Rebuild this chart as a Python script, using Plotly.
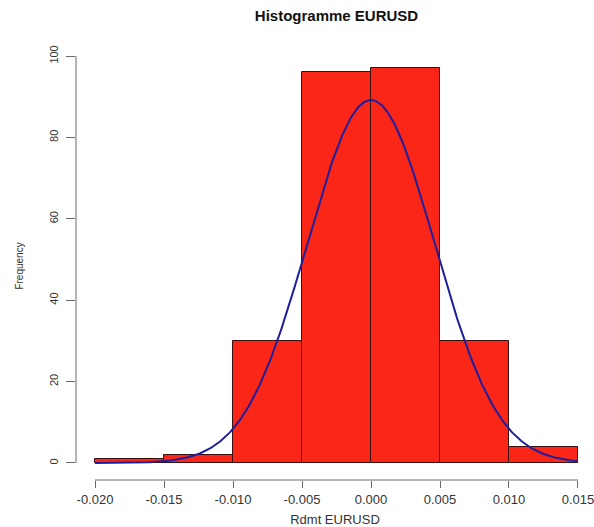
import numpy as np
import plotly.graph_objects as go

# Histogram of EURUSD returns (bin edges and counts)
bin_edges = [-0.020, -0.015, -0.010, -0.005, 0.000, 0.005, 0.010, 0.015]
counts = [1, 2, 30, 96, 97, 30, 4]

# Fitted normal curve parameters (scaled to frequency)
fit_mean = 0.0
fit_sd = 0.0046
fit_peak = 89.2

x_ticks = [-0.020, -0.015, -0.010, -0.005, 0.000, 0.005, 0.010, 0.015]
x_tick_labels = ["-0.020", "-0.015", "-0.010", "-0.005", "0.000", "0.005", "0.010", "0.015"]
y_ticks = [0, 20, 40, 60, 80, 100]

edges = np.array(bin_edges)
centers = (edges[:-1] + edges[1:]) / 2
widths = np.diff(edges)

xc = np.linspace(edges[0], edges[-1], 400)
yc = fit_peak * np.exp(-0.5 * ((xc - fit_mean) / fit_sd) ** 2)

font_family = "Liberation Sans, Arial, sans-serif"
axis_grey = "#6a6a6a"

fig = go.Figure()
fig.add_trace(go.Bar(
    x=centers, y=counts, width=widths,
    marker=dict(color="#FA2617", line=dict(color="#3a1010", width=1)),
    hoverinfo="skip",
))
fig.add_trace(go.Scatter(
    x=xc, y=yc, mode="lines",
    line=dict(color="#1F1F9C", width=2),
    hoverinfo="skip",
))

# R-style axis lines spanning only the tick range
fig.add_shape(type="line", xref="x", yref="paper",
              x0=min(x_ticks), x1=max(x_ticks), y0=0, y1=0,
              line=dict(color=axis_grey, width=1))
fig.add_shape(type="line", xref="paper", yref="y",
              x0=0, x1=0, y0=min(y_ticks), y1=max(y_ticks),
              line=dict(color=axis_grey, width=1))

fig.update_layout(
    width=594, height=527,
    margin=dict(l=76, r=0, t=52, b=47),
    paper_bgcolor="white", plot_bgcolor="white",
    showlegend=False,
    bargap=0,
    font=dict(family=font_family, color="#222222", size=12),
    title=dict(text="<b>Histogramme EURUSD</b>", x=(336.5 / 594), xanchor="center",
               y=1 - 16 / 527, yanchor="middle",
               font=dict(size=15, color="#111111")),
    xaxis=dict(
        range=[-0.021377, 0.01616],
        tickvals=x_ticks, ticktext=x_tick_labels,
        ticks="outside", ticklen=7, tickcolor=axis_grey,
        ticklabeloverflow="allow",
        automargin=False,
        showline=False, showgrid=False, zeroline=False,
        tickfont=dict(size=13, color="#333333"),
        title=dict(text="Rdmt EURUSD", font=dict(size=13, color="#333333"), standoff=14),
    ),
    yaxis=dict(
        range=[-4.18, 101.0],
        tickvals=y_ticks,
        ticks="outside", ticklen=9, tickcolor=axis_grey,
        tickangle=-90,
        ticklabelstandoff=4,
        automargin=False,
        showline=False, showgrid=False, zeroline=False,
        tickfont=dict(size=11, color="#333333"),
        title=dict(text="Frequency", font=dict(size=10, color="#333333"), standoff=22),
    ),
)

fig.write_html("out.html")
